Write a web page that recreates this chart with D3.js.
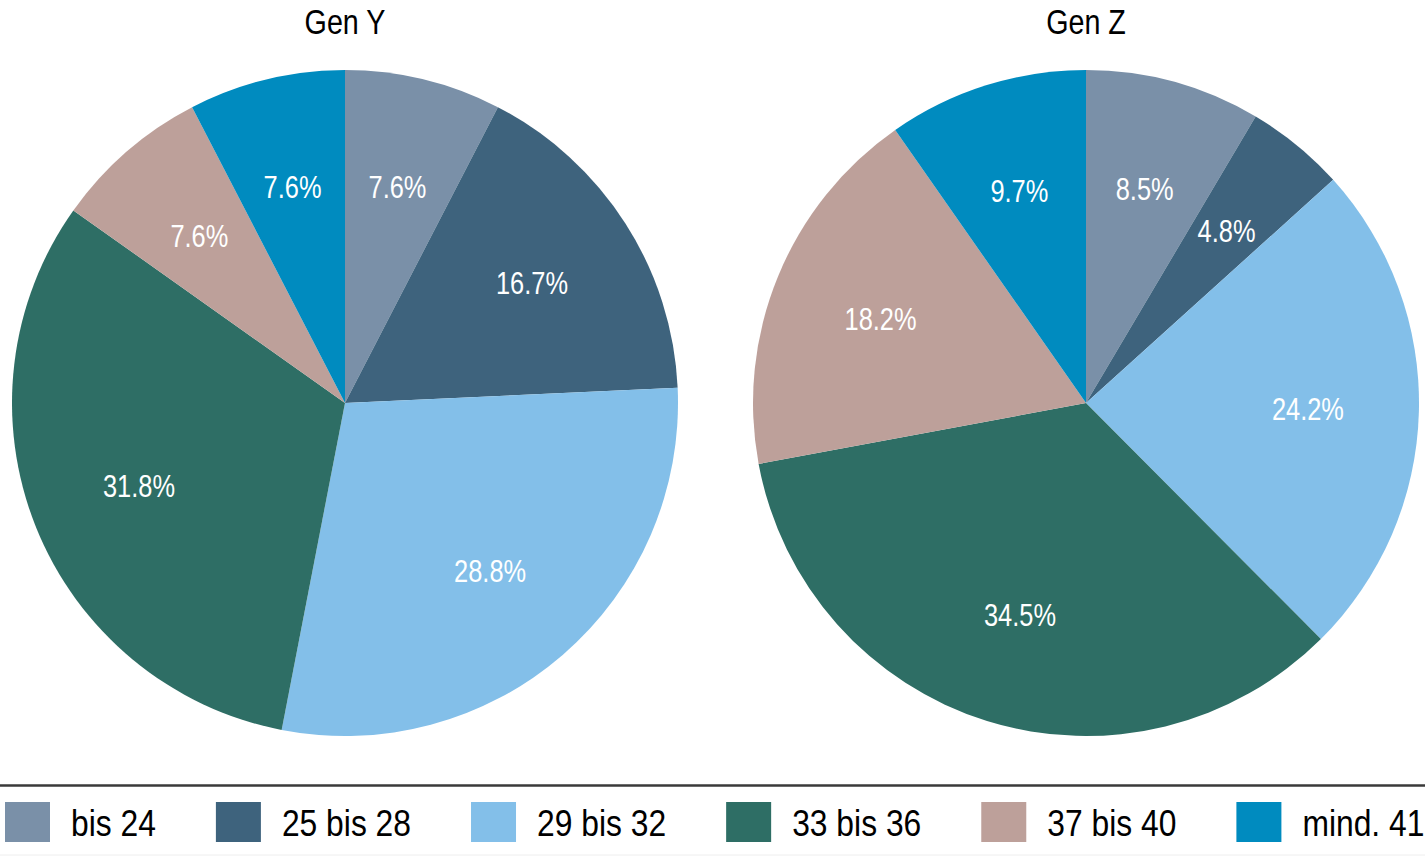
<!DOCTYPE html>
<html>
<head>
<meta charset="utf-8">
<script src="https://cdn.jsdelivr.net/npm/d3@7"></script>
<style>
  html, body { margin: 0; padding: 0; background: #fff; }
  svg text { font-family: "Liberation Sans", Arial, sans-serif; }
</style>
</head>
<body>
<div id="chart"></div>
<script>
"use strict";

// Age groups (legend order = slice order, clockwise from 12 o'clock)
var categories = ["bis 24", "25 bis 28", "29 bis 32", "33 bis 36", "37 bis 40", "mind. 41"];
var colors = ["#7a90a8", "#3e637d", "#83bfe9", "#2e6e65", "#bda09a", "#008bbf"];
var panelTitles = ["Gen Y", "Gen Z"];
var genY = [7.6, 16.7, 28.8, 31.8, 7.6, 7.6];
var genZ = [8.5, 4.8, 24.2, 34.5, 18.2, 9.7];

var width = 1425, height = 856;
var radius = 333, labelRadius = 222;
var centers = [{x: 345, y: 403}, {x: 1086, y: 403}];
// no narrow font installed, so squeeze the regular one
var narrow = 0.82, legendNarrow = 0.86;

var svg = d3.select("#chart").append("svg")
    .attr("width", width)
    .attr("height", height);

var color = d3.scaleOrdinal().domain(categories).range(colors);

var pie = d3.pie()
    .sort(null)
    .value(function (d) { return d.value; });

var arc = d3.arc().innerRadius(0).outerRadius(radius);
var labelArc = d3.arc().innerRadius(labelRadius).outerRadius(labelRadius);

function place(x, y, s) {
    return "translate(" + [x, y] + ") scale(" + (s || narrow) + ",1)";
}

[genY, genZ].forEach(function (values, i) {
    var rows = categories.map(function (c, j) { return {cat: c, value: values[j]}; });
    var g = svg.append("g")
        .attr("transform", "translate(" + [centers[i].x, centers[i].y] + ")");

    g.selectAll("path")
        .data(pie(rows))
        .enter().append("path")
        .attr("d", arc)
        .attr("fill", function (d) { return color(d.data.cat); });

    g.selectAll("text.val")
        .data(pie(rows))
        .enter().append("text")
        .attr("class", "val")
        .attr("transform", function (d) {
            var c = labelArc.centroid(d);
            return place(c[0], c[1]);
        })
        .attr("text-anchor", "middle")
        .attr("dy", "0.36em")
        .attr("fill", "#fff")
        .attr("font-size", 31)
        .text(function (d) { return d3.format(".1f")(d.data.value) + "%"; });

    svg.append("text")
        .attr("transform", place(centers[i].x, 34))
        .attr("text-anchor", "middle")
        .attr("font-size", 35)
        .attr("fill", "#000")
        .text(panelTitles[i]);
});

// Legend separator
svg.append("line")
    .attr("x1", 0).attr("x2", width)
    .attr("y1", 785.5).attr("y2", 785.5)
    .attr("stroke", "#3a3a3a")
    .attr("stroke-width", 2.5);
svg.append("line")
    .attr("x1", 0).attr("x2", width)
    .attr("y1", 855).attr("y2", 855)
    .attr("stroke", "#eee")
    .attr("stroke-width", 1);

// Legend, laid out as a flow: swatch, gap, text, gap
var legend = svg.append("g").attr("class", "legend");
var x = 5;
categories.forEach(function (c) {
    legend.append("rect")
        .attr("x", x).attr("y", 802)
        .attr("width", 45).attr("height", 40)
        .attr("fill", color(c));
    var t = legend.append("text")
        .attr("transform", place(x + 66, 836, legendNarrow))
        .attr("font-size", 37)
        .attr("fill", "#000")
        .text(c);
    x += 66 + t.node().getComputedTextLength() * legendNarrow + 60;
});
</script>
</body>
</html>
